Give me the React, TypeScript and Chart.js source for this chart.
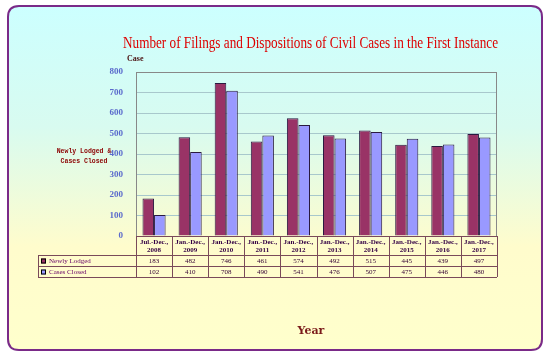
import React, { useEffect, useRef } from "react";
import { Chart, registerables } from "chart.js";

Chart.register(...registerables);

const periods = ["Jul.-Dec.,", "Jan.-Dec.,", "Jan.-Dec.,", "Jan.-Dec.,", "Jan.-Dec.,", "Jan.-Dec.,", "Jan.-Dec.,", "Jan.-Dec.,", "Jan.-Dec.,", "Jan.-Dec.,"];
const years = ["2008", "2009", "2010", "2011", "2012", "2013", "2014", "2015", "2016", "2017"];
const newlyLodged = [183, 482, 746, 461, 574, 492, 515, 445, 439, 497];
const casesClosed = [102, 410, 708, 490, 541, 476, 507, 475, 446, 480];
const seriesNames = ["Newly Lodged", "Cases Closed"];
const yTicks = [0, 100, 200, 300, 400, 500, 600, 700, 800];

const TITLE = "Number of Filings and Dispositions of Civil Cases in the First Instance";
const COLORS = ["#993366", "#9999FF"];

function roundRect(ctx: CanvasRenderingContext2D, x: number, y: number, w: number, h: number, r: number) {
  ctx.beginPath();
  ctx.moveTo(x + r, y);
  ctx.lineTo(x + w - r, y);
  ctx.quadraticCurveTo(x + w, y, x + w, y + r);
  ctx.lineTo(x + w, y + h - r);
  ctx.quadraticCurveTo(x + w, y + h, x + w - r, y + h);
  ctx.lineTo(x + r, y + h);
  ctx.quadraticCurveTo(x, y + h, x, y + h - r);
  ctx.lineTo(x, y + r);
  ctx.quadraticCurveTo(x, y, x + r, y);
  ctx.closePath();
}

const bgPlugin = {
  id: "bgPlugin",
  beforeDraw(chart: any) {
    const ctx = chart.ctx as CanvasRenderingContext2D;
    const W = chart.width, H = chart.height;
    ctx.save();
    ctx.fillStyle = "#ffffff";
    ctx.fillRect(0, 0, W, H);
    const grad = ctx.createLinearGradient(0, 6, 0, 350);
    grad.addColorStop(0, "#ccffff");
    grad.addColorStop(0.35, "#d8fbf0");
    grad.addColorStop(0.7, "#fffccc");
    grad.addColorStop(1, "#ffffcc");
    roundRect(ctx, 8, 6, 534, 344, 11);
    ctx.fillStyle = grad;
    ctx.fill();
    ctx.lineWidth = 2;
    ctx.strokeStyle = "#7a2a88";
    ctx.stroke();

    ctx.fillStyle = "#dd0000";
    ctx.font = "17px 'Liberation Serif', 'Times New Roman', serif";
    ctx.textAlign = "left";
    ctx.textBaseline = "alphabetic";
    ctx.fillText(TITLE, 123, 48, 375);

    ctx.fillStyle = "#4a1010";
    ctx.font = "bold 8px 'Liberation Serif', serif";
    ctx.fillText("Case", 127, 61);

    ctx.fillStyle = "#8b0000";
    ctx.font = "bold 6.5px 'Liberation Mono', 'DejaVu Sans Mono', monospace";
    ctx.textAlign = "center";
    ctx.fillText("Newly Lodged &", 84, 153);
    ctx.fillText("Cases Closed", 84, 163);

    ctx.fillStyle = "#7a1a1a";
    ctx.font = "bold 11px 'DejaVu Serif', serif";
    ctx.fillText("Year", 311, 334);
    ctx.restore();
  },
  afterDraw(chart: any) {
    const ctx = chart.ctx as CanvasRenderingContext2D;
    const area = chart.chartArea;
    const xs = chart.scales.x;
    const n = years.length;
    const colW = (area.right - area.left) / n;
    const top = area.bottom;
    const r1 = top + 19;
    const r2 = r1 + 11;
    const r3 = r2 + 11;
    const tableLeft = 38;
    ctx.save();
    ctx.strokeStyle = "#888888";
    ctx.lineWidth = 1;
    ctx.strokeRect(area.left + 0.5, area.top + 0.5, area.right - area.left - 1, area.bottom - area.top);

    ctx.strokeStyle = "#7a4a5a";
    ctx.beginPath();
    ctx.moveTo(area.left, top + 0.5);
    ctx.lineTo(area.right, top + 0.5);
    ctx.moveTo(tableLeft, r1 + 0.5);
    ctx.lineTo(area.right, r1 + 0.5);
    ctx.moveTo(tableLeft, r2 + 0.5);
    ctx.lineTo(area.right, r2 + 0.5);
    ctx.moveTo(tableLeft, r3 + 0.5);
    ctx.lineTo(area.right, r3 + 0.5);
    ctx.moveTo(tableLeft + 0.5, r1);
    ctx.lineTo(tableLeft + 0.5, r3);
    for (let i = 0; i <= n; i++) {
      const x = Math.round(area.left + i * colW) + 0.5;
      ctx.moveTo(x, top);
      ctx.lineTo(x, r3);
    }
    ctx.stroke();

    ctx.textAlign = "center";
    ctx.textBaseline = "middle";
    for (let i = 0; i < n; i++) {
      const cx = xs.getPixelForValue(i);
      ctx.fillStyle = "#330044";
      ctx.font = "bold 7px 'Liberation Serif', serif";
      ctx.fillText(periods[i], cx, top + 6);
      ctx.fillText(years[i], cx, top + 14);
      ctx.font = "7px 'Liberation Serif', serif";
      ctx.fillStyle = "#330033";
      ctx.fillText(String(newlyLodged[i]), cx, r1 + 6);
      ctx.fillText(String(casesClosed[i]), cx, r2 + 6);
    }
    const rows = [r1, r2];
    for (let k = 0; k < 2; k++) {
      const y = rows[k] + 6;
      ctx.fillStyle = COLORS[k];
      ctx.fillRect(41, y - 2.5, 5, 5);
      ctx.strokeStyle = "#000000";
      ctx.strokeRect(41.5, y - 2, 4, 4);
      ctx.fillStyle = "#660066";
      ctx.textAlign = "left";
      ctx.font = "7px 'Liberation Serif', serif";
      ctx.fillText(seriesNames[k], 49, y);
    }
    ctx.restore();
  },
};

export default function App() {
  const ref = useRef<HTMLCanvasElement>(null);
  useEffect(() => {
    document.body.style.margin = "0";
    const chart = new Chart(ref.current!, {
      type: "bar",
      data: {
        labels: years,
        datasets: [
          { label: seriesNames[0], data: newlyLodged, backgroundColor: COLORS[0], borderColor: "#2a1a40", borderWidth: 1, categoryPercentage: 0.64, barPercentage: 1 },
          { label: seriesNames[1], data: casesClosed, backgroundColor: COLORS[1], borderColor: "#2a1a40", borderWidth: 1, categoryPercentage: 0.64, barPercentage: 1 },
        ],
      },
      options: {
        animation: false,
        responsive: false,
        maintainAspectRatio: false,
        layout: { padding: { left: 106, top: 72, right: 54, bottom: 121 } },
        plugins: { legend: { display: false }, title: { display: false }, tooltip: { enabled: false } },
        scales: {
          x: { display: false },
          y: {
            min: 0,
            max: 800,
            afterBuildTicks: (s: any) => { s.ticks = yTicks.map((v) => ({ value: v })); },
            afterFit: (s: any) => { s.width = 30; },
            ticks: { color: "#5a6acc", font: { size: 9, weight: "bold", family: "'Liberation Serif', serif" }, padding: 13 },
            grid: { color: "#a8c8cc", drawTicks: false },
            border: { display: false },
          },
        },
      },
      plugins: [bgPlugin],
    });
    return () => chart.destroy();
  }, []);
  return <canvas ref={ref} width={551} height={357} style={{ display: "block" }} />;
}
